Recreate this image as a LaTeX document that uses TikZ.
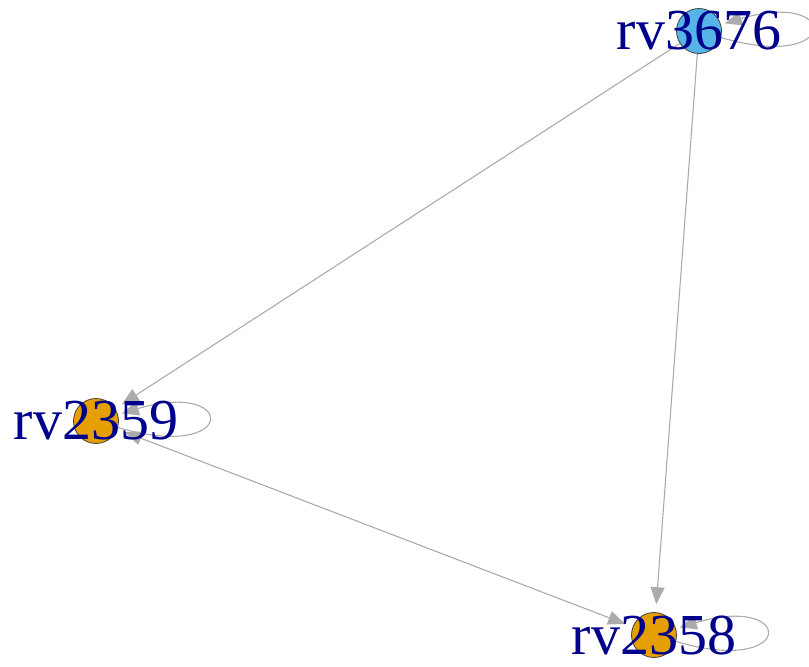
\documentclass[tikz,border=0pt]{standalone}
\usepackage{fontspec}
\setmainfont{Liberation Serif}
\usetikzlibrary{arrows.meta,backgrounds}

\begin{document}
\begin{tikzpicture}[x=1pt,y=-1pt,>={Triangle[length=17pt,width=14pt]},
  vert/.style={circle,draw=black!75,line width=0.8pt,minimum size=45pt,inner sep=0pt},
  vlabel/.style={text=blue!55!black,font=\fontsize{58}{64}\selectfont,inner sep=0pt},
  edge/.style={draw=black!33,line width=1.1pt,shorten >=8pt},
  selfloop/.style={edge,shorten >=4pt}]
\useasboundingbox (0,0) rectangle (809,667);
\node[vert,fill={rgb,255:red,86;green,180;blue,233}] (rv3676) at (699,31) {};
\node[vert,fill={rgb,255:red,230;green,159;blue,0}] (rv2359) at (96,421) {};
\node[vert,fill={rgb,255:red,230;green,159;blue,0}] (rv2358) at (654,635) {};
% edges below the vertices
\begin{pgfonlayer}{background}
\draw[edge,->] (rv3676)--(rv2359);\draw[edge,->] (rv3676)--(rv2358);
\draw[edge,<->,shorten <=8pt] (rv2359)--(rv2358);
\draw[selfloop,->] (rv3676) .. controls +(142,42) and +(142,-42) .. (rv3676);
\draw[selfloop,->] (rv2359) .. controls +(142,42) and +(142,-42) .. (rv2359);
\draw[selfloop,->] (rv2358) .. controls +(142,42) and +(142,-42) .. (rv2358);
\end{pgfonlayer}
\node[vlabel] (lab3676) at (rv3676) {rv3676};
\node[vlabel] (lab2359) at (rv2359) {rv2359};
\node[vlabel] (lab2358) at (rv2358) {rv2358};
\end{tikzpicture}
\end{document}
